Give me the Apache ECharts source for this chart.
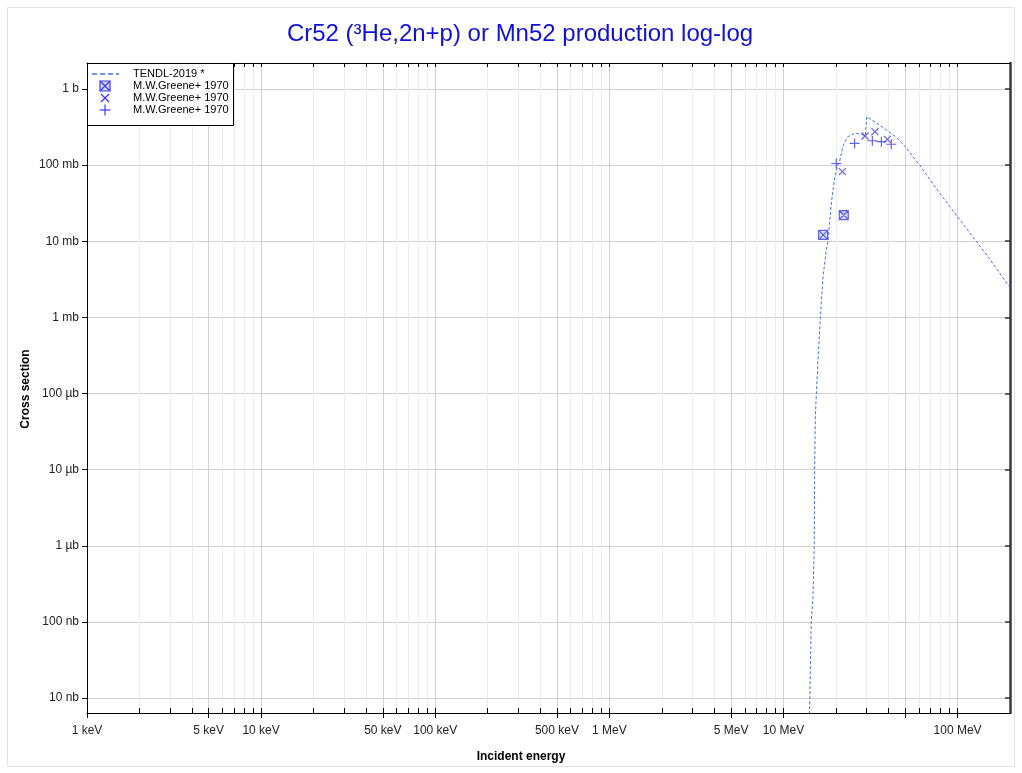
<!DOCTYPE html>
<html>
<head>
<meta charset="utf-8">
<script src="https://cdn.jsdelivr.net/npm/echarts@6/dist/echarts.min.js"></script>
<style>
html,body{margin:0;padding:0;background:#fff;}
#chart{width:1022px;height:773px;}
</style>
</head>
<body>
<div id="chart"></div>
<script>
// ---- data (energies in MeV, cross sections in mb) ----
const tendlEnergyMeV = [13.9, 14.45, 14.77, 15.03, 15.1, 15.24, 15.45, 15.78, 16.29, 16.86, 17.62, 18.0, 18.9, 19.7, 20.5, 21.0, 22.0, 23.4, 25.6, 27.4, 29.5, 30.1, 30.1, 34.1, 39.0, 44.5, 50.0, 60.5, 79.0, 100.0, 152.0, 195.0, 200.0];
const tendlXsMb      = [1e-6, 1.05e-4, 2.1e-4, 1.07e-3, 9.8e-3, 0.049, 0.1, 0.275, 1.0, 3.4, 7.6, 10, 34, 68, 100, 112, 180, 236, 262, 256, 245, 245, 433, 360, 290, 232, 175, 100, 42.6, 21, 5.96, 2.66, 2.55];

const greeneBoxEnergyMeV   = [16.9, 22.2];
const greeneBoxXsMb        = [12.1, 22.1];
const greeneCrossEnergyMeV = [21.8, 29.4, 33.5, 39.5];
const greeneCrossXsMb      = [82, 241, 275, 218];
const greenePlusEnergyMeV  = [20.1, 25.6, 32.4, 36.5, 41.6];
const greenePlusXsMb       = [105, 193, 209, 203, 188];

const xTickEnergiesEV = [1e3, 5e3, 1e4, 5e4, 1e5, 5e5, 1e6, 5e6, 1e7, 5e7, 1e8];
const xTickLabels     = ['1 keV', '5 keV', '10 keV', '50 keV', '100 keV', '500 keV', '1 MeV', '5 MeV', '10 MeV', '', '100 MeV'];
const yTickValuesB    = [1, 0.1, 0.01, 1e-3, 1e-4, 1e-5, 1e-6, 1e-7, 1e-8];
const yTickLabels     = ['1 b', '100 mb', '10 mb', '1 mb', '100 µb', '10 µb', '1 µb', '100 nb', '10 nb'];

const seriesNames = ['TENDL-2019 *', 'M.W.Greene+ 1970', 'M.W.Greene+ 1970', 'M.W.Greene+ 1970'];

// ---- helpers ----
const lx = e => Math.log10(e * 1e6);        // MeV -> log10(eV)
const ly = s => Math.log10(s / 1000);        // mb  -> log10(b)
const pairs = (es, ss) => es.map((e, i) => [lx(e), ly(ss[i])]);
const r = v => Math.round(v * 1e6) / 1e6;

const XMIN = 3, XMAX = Math.log10(2e8);
const YMIN = -8.197, YMAX = 0.3415;

const majorX = xTickEnergiesEV.map(v => r(Math.log10(v)));
const minorX = [];
for (let d = 3; d <= 8; d++) {
  for (let m = 2; m <= 9; m++) {
    if (m === 5) continue;
    const v = r(Math.log10(m * Math.pow(10, d)));
    if (v <= XMAX) minorX.push(v);
  }
}
const allX = majorX.concat(minorX);
const labelX = majorX.filter((v, i) => xTickLabels[i] !== '');
const majorY = yTickValuesB.map(v => r(Math.log10(v)));

const xLabelFor = v => {
  const i = majorX.findIndex(t => Math.abs(t - v) < 1e-4);
  return i >= 0 ? xTickLabels[i] : '';
};
const yLabelFor = v => {
  const i = majorY.findIndex(t => Math.abs(t - v) < 1e-4);
  return i >= 0 ? yTickLabels[i] : '';
};

const FONT = 'Arial, "Liberation Sans", Helvetica, sans-serif';
const CURVE = '#4470ea';
const MARK = '#3a3af5';

const G = {left: 87, right: 12, top: 63, bottom: 60, containLabel: false, outerBoundsMode: 'none'};
const X = (gi, extra) => {
  const o = Object.assign({type: 'value', min: XMIN, max: XMAX, gridIndex: gi,
    axisTick: {show: false}, axisLabel: {show: false}, splitLine: {show: false}}, extra);
  o.axisLine = Object.assign({show: false}, extra.axisLine || {}, {onZero: false});
  return o;
};
const Y = (gi, extra) => {
  const o = Object.assign({type: 'value', min: YMIN, max: YMAX, gridIndex: gi,
    axisTick: {show: false}, axisLabel: {show: false}, splitLine: {show: false}}, extra);
  o.axisLine = Object.assign({show: false}, extra.axisLine || {}, {onZero: false});
  return o;
};

// ---- legend drawn as a boxed key ----
const LX = 87, LY = 63, LW = 146, LH = 62, ROW0 = 74, ROWH = 12, ICX = 105, TX = 133;
const LZ = 100;
const legendChildren = [
  {type: 'rect', shape: {x: LX + 0.5, y: LY + 0.5, width: LW, height: LH},
   style: {fill: '#fff', stroke: '#000', lineWidth: 1}},
  {type: 'line', shape: {x1: 92, y1: ROW0, x2: 119, y2: ROW0},
   style: {stroke: CURVE, lineWidth: 1.5, lineDash: [5, 3]}},
  {type: 'rect', shape: {x: ICX - 5, y: ROW0 + ROWH - 5, width: 10, height: 10},
   style: {fill: 'rgba(90,90,255,0.25)', stroke: MARK, lineWidth: 1.2}},
  {type: 'polyline', shape: {points: [[ICX - 5, ROW0 + ROWH - 5], [ICX + 5, ROW0 + ROWH + 5]]},
   style: {stroke: MARK, lineWidth: 1.2}},
  {type: 'polyline', shape: {points: [[ICX + 5, ROW0 + ROWH - 5], [ICX - 5, ROW0 + ROWH + 5]]},
   style: {stroke: MARK, lineWidth: 1.2}},
  {type: 'polyline', shape: {points: [[ICX - 4, ROW0 + 2 * ROWH - 4], [ICX + 4, ROW0 + 2 * ROWH + 4]]},
   style: {stroke: MARK, lineWidth: 1.2}},
  {type: 'polyline', shape: {points: [[ICX + 4, ROW0 + 2 * ROWH - 4], [ICX - 4, ROW0 + 2 * ROWH + 4]]},
   style: {stroke: MARK, lineWidth: 1.2}},
  {type: 'polyline', shape: {points: [[ICX - 5.5, ROW0 + 3 * ROWH], [ICX + 5.5, ROW0 + 3 * ROWH]]},
   style: {stroke: MARK, lineWidth: 1.2}},
  {type: 'polyline', shape: {points: [[ICX, ROW0 + 3 * ROWH - 5.5], [ICX, ROW0 + 3 * ROWH + 5.5]]},
   style: {stroke: MARK, lineWidth: 1.2}}
].concat(seriesNames.map((n, i) => ({
  type: 'text', x: TX, y: ROW0 + i * ROWH,
  style: {text: n, font: '11px ' + FONT, fill: '#000', align: 'left', verticalAlign: 'middle'}
}))).map((c, i) => Object.assign(c, {z: LZ + (i === 0 ? 0 : 1), silent: true}));

const chart = echarts.init(document.getElementById('chart'), null, {renderer: 'canvas'});
chart.setOption({
  animation: false,
  backgroundColor: '#fff',
  grid: [Object.assign({}, G), Object.assign({}, G), Object.assign({}, G)],
  xAxis: [
    X(0, {position: 'bottom',
      axisTick: {show: true, inside: true, length: 5, customValues: minorX, lineStyle: {color: '#000'}},
      splitLine: {show: true, lineStyle: {color: '#ececec', width: 1}}}),
    X(0, {position: 'top',
      axisLine: {show: true, lineStyle: {color: '#000', width: 1}},
      axisTick: {show: true, inside: true, length: 4, customValues: allX, lineStyle: {color: '#000'}}}),
    X(1, {position: 'bottom',
      axisLine: {show: true, lineStyle: {color: '#000', width: 1}},
      axisTick: {show: true, inside: false, length: 5, customValues: majorX, lineStyle: {color: '#000'}},
      axisLabel: {show: true, customValues: labelX, formatter: xLabelFor, margin: 12,
                  fontFamily: FONT, fontSize: 12, color: '#222'},
      splitLine: {show: true, lineStyle: {color: '#d0d0d0', width: 1}}}),
    X(2, {position: 'bottom',
      axisTick: {show: true, inside: true, length: 5, customValues: majorX, lineStyle: {color: '#000'}}})
  ],
  yAxis: [
    Y(0, {position: 'right',
      axisLine: {show: true, lineStyle: {color: '#3a3a3a', width: 2.5}},
      axisTick: {show: true, inside: true, length: 5, customValues: majorY, lineStyle: {color: '#333', width: 1.5}}}),
    Y(1, {position: 'left',
      axisLine: {show: true, lineStyle: {color: '#000', width: 1}},
      axisTick: {show: true, inside: false, length: 5, customValues: majorY, lineStyle: {color: '#000'}},
      axisLabel: {show: true, customValues: majorY, formatter: yLabelFor, margin: 8,
                  fontFamily: FONT, fontSize: 12, color: '#222'},
      splitLine: {show: true, lineStyle: {color: '#d0d0d0', width: 1}}}),
    Y(2, {position: 'left'})
  ],
  graphic: [
    {type: 'rect', silent: true, z: -10, shape: {x: 7.5, y: 7.5, width: 1007, height: 759},
     style: {fill: 'none', stroke: '#e4e4e4', lineWidth: 1}},
    {type: 'text', x: 520, y: 34, silent: true,
     style: {text: 'Cr52 (³He,2n+p) or Mn52 production log-log', font: '24px ' + FONT,
             fill: '#1010d8', align: 'center', verticalAlign: 'middle'}},
    {type: 'text', x: 521, y: 757, silent: true,
     style: {text: 'Incident energy', font: 'bold 12px ' + FONT, fill: '#000',
             align: 'center', verticalAlign: 'middle'}},
    {type: 'text', x: 26, y: 389, rotation: Math.PI / 2, silent: true,
     style: {text: 'Cross section', font: 'bold 12px ' + FONT, fill: '#000',
             align: 'center', verticalAlign: 'middle'}}
  ].concat(legendChildren),
  series: [
    {
      name: seriesNames[0], type: 'line', xAxisIndex: 2, yAxisIndex: 1,
      data: pairs(tendlEnergyMeV, tendlXsMb),
      showSymbol: false, symbol: 'none', smooth: false, clip: true,
      lineStyle: {color: CURVE, width: 1, type: [3, 2]},
      itemStyle: {color: CURVE},
      z: 3
    },
    {
      name: seriesNames[1], type: 'scatter', xAxisIndex: 2, yAxisIndex: 1,
      data: pairs(greeneBoxEnergyMeV, greeneBoxXsMb),
      symbol: 'path://M0,0L10,0L10,10L0,10ZM0,0L10,10M10,0L0,10',
      symbolSize: 9,
      itemStyle: {color: 'rgba(90,90,255,0.25)', borderColor: MARK, borderWidth: 1.2},
      z: 4
    },
    {
      name: seriesNames[2], type: 'scatter', xAxisIndex: 2, yAxisIndex: 1,
      data: pairs(greeneCrossEnergyMeV, greeneCrossXsMb),
      symbol: 'path://M0,0L10,10M10,0L0,10',
      symbolSize: 7,
      itemStyle: {color: 'none', borderColor: MARK, borderWidth: 1.2},
      z: 4
    },
    {
      name: seriesNames[3], type: 'scatter', xAxisIndex: 2, yAxisIndex: 1,
      data: pairs(greenePlusEnergyMeV, greenePlusXsMb),
      symbol: 'path://M5,0L5,10M0,5L10,5',
      symbolSize: 10,
      itemStyle: {color: 'none', borderColor: MARK, borderWidth: 1.2},
      z: 4
    }
  ]
});
</script>
</body>
</html>
